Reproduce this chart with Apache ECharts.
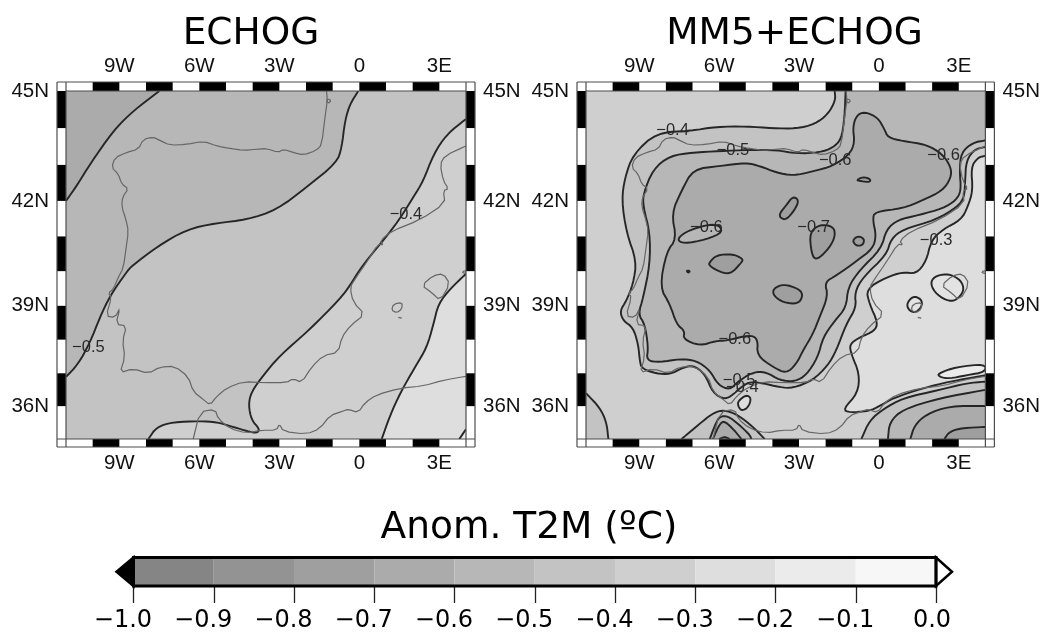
<!DOCTYPE html>
<html><head><meta charset="utf-8">
<style>html,body{margin:0;padding:0;background:#fff}#c{width:1043px;height:633px;filter:blur(0.45px)}</style>
<script src="https://cdn.jsdelivr.net/npm/echarts@6/dist/echarts.min.js"></script>
</head><body><div id="c"></div>
<script>
// ---- data: [lon, lat] in degrees ----
const coastIberia=[[-1.23,45],[-1.2,44.75],[-1.29,44.29],[-1.41,43.56],[-1.6,43.4],[-2.1,43.27],[-2.48,43.34],[-2.85,43.43],[-3.04,43.34],[-3.48,43.45],[-3.85,43.43],[-4.35,43.4],[-4.85,43.45],[-5.35,43.52],[-5.85,43.65],[-6.48,43.56],[-7.1,43.54],[-7.48,43.67],[-7.73,43.76],[-8.1,43.7],[-8.29,43.43],[-8.73,43.34],[-9.16,43.2],[-9.29,42.93],[-9.04,42.75],[-8.91,42.47],[-8.66,42.34],[-8.88,42.11],[-8.91,41.84],[-8.75,41.47],[-8.66,41.15],[-8.75,40.65],[-8.85,40.1],[-9.04,39.83],[-9.22,39.49],[-9.41,39.37],[-9.29,39.25],[-9.5,38.7],[-9.16,38.66],[-8.97,38.95],[-9.13,38.46],[-8.73,38.41],[-8.88,37.97],[-8.79,37.48],[-8.98,37.01],[-8.48,37.14],[-7.91,36.99],[-7.48,37.19],[-6.91,37.21],[-6.41,36.89],[-6.23,36.45],[-5.85,36.21],[-5.6,36.04],[-5.35,36.3],[-4.98,36.55],[-4.35,36.75],[-3.6,36.72],[-2.73,36.72],[-2.48,36.84],[-2.16,36.72],[-1.79,37.19],[-1.35,37.53],[-0.79,37.63],[-0.66,38.07],[-0.35,38.41],[0.21,38.75],[-0.23,39.1],[-0.35,39.54],[-0.16,39.78],[0.28,40.27],[0.71,40.79],[0.9,40.75],[0.78,40.88],[1.21,41.15],[2.28,41.47],[3.21,41.93],[3.15,42.29],[3.34,42.34],[3.15,42.56],[3.03,43.02],[3.21,43.25],[4,43.52]];
const coastAfrica=[[-6.23,35],[-5.98,35.83],[-5.41,35.91],[-5.29,35.62],[-4.85,35.32],[-4.23,35.18],[-3.66,35.27],[-3.1,35.27],[-3,35.47],[-2.85,35.23],[-1.98,35.15],[-1.48,35.32],[-1.1,35.72],[-0.6,35.86],[-0.41,35.91],[-0.04,35.81],[0.21,36.11],[0.65,36.35],[1.53,36.55],[2.4,36.62],[3.15,36.79],[4,36.91]];
const coastMallorca=[[2.34,39.59],[2.77,39.88],[3.15,39.93],[3.4,39.64],[3.03,39.15],[2.71,39.39],[2.34,39.59]];
const coastMenorca=[[3.84,39.98],[4,40.03],[4,39.93],[3.84,39.98]];
const coastIbiza=[[1.28,39.05],[1.61,39.1],[1.59,38.9],[1.4,38.8],[1.21,38.87],[1.28,39.05]];
const coastFormentera=[[1.46,38.66],[1.59,38.64]];
const coastOleron=[[-1.23,44.8],[-1.05,44.75],[-1.17,44.66],[-1.23,44.8]];

const echogA=[[-11,42],[-10.6,42.42],[-10.1,43.02],[-9.23,43.93],[-8.48,44.47],[-7.5,45]];
const echogB=[[-11,36.89],[-10.54,37.28],[-10.1,37.92],[-9.73,38.66],[-9.35,39.29],[-8.73,39.98],[-8.54,40.15],[-7.6,40.7],[-6.48,41.2],[-5.35,41.38],[-4.23,41.47],[-3.1,41.75],[-1.98,42.38],[-0.85,43.06],[-0.66,43.47],[-0.54,44.2],[-0.35,44.65],[-0.04,45]];
const echogC=[[4,44.25],[3.28,43.84],[2.78,43.29],[2.4,42.56],[2.03,42.11],[1.34,41.29],[0.09,40.15],[-0.35,39.59],[-0.73,39.2],[-1.85,38.31],[-2.98,37.53],[-3.6,36.94],[-4.04,36.45],[-4.16,36.06],[-4.04,35.57],[-3.73,35.3],[-3.85,35.18],[-4.16,35.23],[-4.73,35.37],[-5.35,35.52],[-5.98,35.55],[-6.98,35.52],[-7.6,35.37],[-7.91,35]];
const echogD=[[4,39.93],[3.4,39.49],[2.96,39.05],[2.78,38.46],[2.53,37.77],[2.09,37.19],[1.53,36.4],[1.15,35.72],[0.84,35]];
const echogE=[[3.75,35],[4,35.3]];

const mm5c04=[[-1.66,45],[-1.63,44.75],[-1.91,44.38],[-2.41,44.11],[-3.1,43.99],[-3.98,44],[-4.98,44.05],[-6.1,44.04],[-7.1,43.93],[-8.35,43.88],[-9.23,43.29],[-9.54,42.65],[-9.66,42.02],[-9.48,41.11],[-9.1,40.29],[-9.23,39.64],[-9.48,39.15],[-9.73,38.85],[-9.6,38.56],[-9.23,38.36],[-9.04,37.87],[-8.98,37.38],[-8.91,37.14],[-8.35,36.99],[-7.85,36.97],[-7.35,37.17],[-6.98,37.24],[-6.54,36.99],[-6.23,36.4],[-5.79,36.21],[-5.48,36.35],[-5.23,36.55],[-4.85,36.75],[-4.35,36.7],[-3.73,36.58],[-3.23,36.55],[-2.48,36.79],[-1.91,37.24],[-1.6,37.68],[-1.23,38.46],[-0.85,38.95],[-0.91,39.39],[-0.6,39.83],[0.28,40.47],[0.46,40.93],[0.9,41.2],[2.15,41.47],[2.96,41.84],[3.21,42.11],[3.24,42.56],[3.28,43.11],[3.59,43.43],[4,43.49]];
const mm5c05=[[-1.25,45],[-1.29,44.29],[-1.41,43.7],[-1.73,43.47],[-2.23,43.34],[-3.1,43.31],[-3.85,43.41],[-4.85,43.41],[-5.98,43.38],[-6.98,43.34],[-7.85,43.25],[-8.48,42.88],[-8.85,42.2],[-8.85,41.84],[-8.6,41.11],[-8.6,40.2],[-8.85,39.25],[-9.04,38.75],[-8.79,38.46],[-8.66,37.77],[-8.73,37.38],[-8.23,37.33],[-7.48,37.43],[-6.85,37.38],[-6.35,37.09],[-6.04,36.65],[-5.6,36.5],[-5.29,36.75],[-4.73,37.04],[-4.23,37.04],[-3.73,36.79],[-3.16,36.75],[-2.73,36.94],[-2.29,37.48],[-2.1,38.07],[-1.66,38.56],[-1.23,38.95],[-1.16,39.54],[-0.73,40.03],[0.09,40.65],[0.28,41.2],[0.71,41.47],[1.53,41.61],[2.4,41.79],[2.9,42.02],[3.09,42.29],[3.03,42.84],[3.09,43.34],[3.53,43.61],[4,43.67]];
const mm5c06=[[-5.98,42.97],[-4.98,43.06],[-4.48,42.97],[-3.85,42.79],[-3.23,42.7],[-2.48,42.82],[-1.73,42.97],[-1.1,43.29],[-0.91,43.61],[-0.98,44.02],[-0.85,44.34],[-0.54,44.45],[-0.04,44.29],[0.21,43.97],[0.34,43.75],[0.9,43.65],[1.78,43.56],[2.4,43.29],[2.71,42.93],[2.71,42.65],[2.4,42.29],[1.65,42.02],[0.9,41.79],[-0.16,41.7],[-0.23,41.47],[-0.1,41.02],[-0.23,40.65],[-0.85,40.29],[-1.6,39.88],[-2.04,39.69],[-1.91,39.29],[-2.23,38.66],[-2.48,38.17],[-2.85,37.68],[-3.1,37.28],[-3.48,36.99],[-3.98,37.19],[-4.58,37.53],[-4.54,38.02],[-4.85,38.15],[-5.73,37.97],[-6.1,37.97],[-6.73,37.82],[-7.35,38.02],[-7.29,38.26],[-7.6,38.46],[-7.85,39.05],[-8.23,39.54],[-7.98,40.56],[-7.6,40.93],[-7.79,41.65],[-7.41,42.29],[-6.98,42.88],[-5.98,42.97]];
const mm5c03=[[4,43.25],[3.71,43.2],[3.46,42.93],[3.53,42.29],[3.34,41.84],[3.09,41.47],[2.4,41.2],[1.96,40.88],[1.78,40.29],[1.4,39.93],[0.9,39.98],[0.28,39.83],[-0.48,39.49],[-0.35,39.05],[-0.04,38.51],[-0.16,38.26],[-0.73,38.07],[-1.1,37.87],[-1.04,37.58],[-0.73,36.99],[-0.79,36.4],[-1.35,35.91],[-1.1,35.81],[-0.35,35.86],[0.03,36.01],[0.53,36.25],[1.65,36.55],[2.65,36.75],[4,36.94]];
const mm5PatchWest=[[-7.6,40.93],[-7.1,41.2],[-6.1,41.38],[-5.83,41.13],[-6.48,40.91],[-7.35,40.79],[-7.6,40.93]];
const mm5Cold=[
 [[-3.73,41.65],[-3.48,41.88],[-3.23,42.13],[-3,42.02],[-3.16,41.75],[-3.48,41.47],[-3.7,41.52],[-3.73,41.65]],
 [[-0.85,42.58],[-0.6,42.67],[-0.31,42.61],[-0.35,42.52],[-0.66,42.55],[-0.85,42.58]],
 [[-2.6,41.11],[-2.23,41.34],[-1.73,41.29],[-1.63,41.06],[-1.79,40.75],[-2.16,40.43],[-2.41,40.34],[-2.54,40.56],[-2.6,41.11]],
 [[-1,40.88],[-0.79,41.02],[-0.54,40.93],[-0.6,40.75],[-0.85,40.73],[-1,40.88]],
 [[-6.35,40.27],[-6.1,40.47],[-5.48,40.5],[-5.1,40.36],[-5.16,40.25],[-5.6,39.9],[-6.1,40.03],[-6.39,40.18],[-6.35,40.27]],
 [[-7.23,40.03],[-7.09,40.01],[-7.16,39.95],[-7.23,40.03]],
 [[-3.98,39.49],[-3.6,39.64],[-2.98,39.49],[-2.85,39.29],[-3.04,39.05],[-3.6,39.1],[-3.95,39.29],[-3.98,39.49]]
];
const mm5PatchAlboran=[[2.21,36.99],[2.9,37.19],[4,37.28],[4,37.04],[3.28,36.94],[2.65,36.84],[2.28,36.89],[2.21,36.99]];
const mm5PatchMallorca=[[1.93,39.69],[2.15,39.88],[2.65,39.93],[3.09,39.74],[3.21,39.44],[2.9,39.15],[2.53,39.15],[2.09,39.39],[1.93,39.69]];
const mm5PatchIbiza=[[1.03,39.05],[1.28,39.29],[1.59,39.2],[1.63,39.0],[1.4,38.8],[1.15,38.85],[1.03,39.05]];
const mm5PatchCadiz=[[-5.29,36.16],[-4.98,36.35],[-4.79,36.25],[-4.91,35.96],[-5.16,35.86],[-5.29,36.01],[-5.29,36.16]];
const mm5SE04=[[4,36.75],[3.28,36.7],[2.28,36.5],[0.9,36.25],[0.15,35.91],[-0.35,35.57],[-0.66,35]];
const mm5SE05=[[4,36.5],[2.28,36.25],[0.9,35.91],[0.4,35.52],[0.34,35]];
const mm5SE06=[[4,36.01],[2.65,36.01],[1.78,35.76],[1.34,35.42],[1.18,35]];
const mm5SE07=[[4,35.37],[3.15,35.34],[2.65,35.23],[2.46,35]];
const mm5Mor04=[[-7.41,35],[-6.73,35.47],[-6.29,35.76],[-5.91,35.89],[-5.48,35.81],[-5.1,35.62],[-4.66,35.32],[-4.29,35]];
const mm5Mor05=[[-6.35,35],[-6.16,35.42],[-5.98,35.7],[-5.66,35.7],[-5.29,35.47],[-4.85,35.13],[-4.79,35]];
const mm5Mor06=[[-6.23,35],[-6.04,35.37],[-5.85,35.57],[-5.54,35.37],[-5.16,35]];
const mm5Mor07=[[-6,35],[-5.79,35.07],[-5.6,35]];
const mm5SW=[[-11,36.4],[-10.48,35.96],[-10.23,35.52],[-10.16,35]];

const labelsEchog=[[1.75,41.63,'−0.4'],[-10.16,37.78,'−0.5']];
const labelsMM5=[[-7.75,43.93,'−0.4'],[-5.48,43.41,'−0.5'],[-1.64,43.13,'−0.6'],[2.43,43.26,'−0.6'],[-6.48,41.25,'−0.6'],[-2.45,41.25,'−0.7'],[2.15,40.88,'−0.3'],[-5.41,38.0,'−0.6'],[-5.25,36.77,'−0.5'],[-5.13,36.58,'−0.4']];

const lonTicks=[-9,-6,-3,0,3];
const latTicks=[36,39,42,45];
const colorLevels=[-1,-0.9,-0.8,-0.7,-0.6,-0.5,-0.4,-0.3,-0.2,-0.1,0];
const colorSteps=['#858585','#939393','#9f9f9f','#ababab','#b7b7b7','#c3c3c3','#cfcfcf','#dedede','#ebebeb','#f7f7f7'];
const C={l9f:colorSteps[2],ab:colorSteps[3],b7:colorSteps[4],c3:colorSteps[5],cf:colorSteps[6],de:colorSteps[7],eb:colorSteps[8]};

const fillsEchog=[
 {p:echogB,c:C.b7,e:[[-11,45]]},{p:echogA,c:C.ab,e:[[-11,45]]},
 {p:echogC,c:C.cf,e:[[4,35]]},{p:echogD,c:C.de,e:[[4,35]]},{p:echogE,c:C.eb,e:[[4,35]]}];
const fillsMM5=[
 {p:mm5c04,c:C.c3,e:[[4,45]]},{p:mm5c05,c:C.b7,e:[[4,45]]},{p:mm5c06,c:C.ab,e:[]},
 {p:mm5PatchWest,c:C.b7,e:[]},
 ...mm5Cold.map(p=>({p,c:C.l9f,e:[]})),
 {p:mm5c03,c:C.de,e:[]},{p:mm5PatchAlboran,c:C.eb,e:[]},{p:mm5PatchMallorca,c:'#e3e3e3',e:[]},{p:mm5PatchIbiza,c:'#e3e3e3',e:[]},{p:mm5PatchCadiz,c:C.de,e:[]},
 {p:mm5SE04,c:C.c3,e:[[4,35]]},{p:mm5SE05,c:C.b7,e:[[4,35]]},{p:mm5SE06,c:C.ab,e:[[4,35]]},{p:mm5SE07,c:C.l9f,e:[[4,35]]},
 {p:mm5Mor04,c:C.c3,e:[]},{p:mm5Mor05,c:C.b7,e:[]},{p:mm5Mor06,c:C.ab,e:[]},{p:mm5Mor07,c:C.l9f,e:[]},
 {p:mm5SW,c:C.c3,e:[[-11,35]]}];
const coasts=[coastIberia,coastAfrica,coastMallorca,coastMenorca,coastIbiza,coastFormentera,coastOleron];

// ---- helpers ----
const rad=Math.PI/180;
const merc=lat=>Math.log(Math.tan(Math.PI/4+lat*rad/2));
const unmerc=v=>Math.round((2*Math.atan(Math.exp(v))-Math.PI/2)/rad);
const LON=[-11,4],LAT=[35,45];
const PX=(api,p)=>api.coord([p[0],merc(p[1])]);
function chaikin(pts,closed,n){
  for(let k=0;k<n;k++){const o=[];const m=pts.length;
    if(!closed)o.push(pts[0]);
    for(let i=0;i<m-1;i++){const a=pts[i],b=pts[i+1];
      o.push([a[0]*.75+b[0]*.25,a[1]*.75+b[1]*.25]);
      o.push([a[0]*.25+b[0]*.75,a[1]*.25+b[1]*.75]);}
    if(!closed)o.push(pts[m-1]); else o.push(o[0]);
    pts=o;}
  return pts;
}
const isClosed=p=>p[0][0]===p[p.length-1][0]&&p[0][1]===p[p.length-1][1];
function fillSeries(i,base,fills){
  return {type:'custom',xAxisIndex:i*2,yAxisIndex:i*2,clip:true,silent:true,z:2,
    data:[{value:[LON[0],merc(LAT[0]),-1]}].concat(fills.map((f,k)=>({value:[f.p[0][0],merc(f.p[0][1]),k]}))),
    renderItem(params,api){
      const k=api.value(2);
      if(k<0){const a=api.coord([LON[0],merc(LAT[1])]),b=api.coord([LON[1],merc(LAT[0])]);
        return {type:'rect',shape:{x:a[0],y:a[1],width:b[0]-a[0],height:b[1]-a[1]},style:{fill:base}};}
      const f=fills[k];const closed=isClosed(f.p);
      const line=chaikin(f.p.map(p=>PX(api,p)),closed,2);
      const ring=line.concat(f.e.map(p=>PX(api,p)));
      return {type:'group',children:[
        {type:'polygon',shape:{points:ring},style:{fill:f.c,stroke:null}},
        {type:'polyline',shape:{points:line},style:{fill:null,stroke:'#262626',lineWidth:1.9}}]};
    }};
}
function coastSeries(i){
  return {type:'custom',xAxisIndex:i*2,yAxisIndex:i*2,clip:true,silent:true,z:2,
    data:coasts.map((c,k)=>[c[0][0],merc(c[0][1]),k]),
    renderItem(params,api){
      const c=coasts[api.value(2)];
      return {type:'polyline',shape:{points:chaikin(c.map(p=>PX(api,p)),isClosed(c),1)},style:{fill:null,stroke:'#666',lineWidth:1.2}};
    }};
}
function labelSeries(i,labels){
  return {type:'custom',xAxisIndex:i*2,yAxisIndex:i*2,silent:true,z:3,
    data:labels.map((l,k)=>[l[0],merc(l[1]),k]),
    renderItem(params,api){
      const l=labels[api.value(2)],pt=api.coord([l[0],merc(l[1])]);
      return {type:'text',style:{x:pt[0],y:pt[1],text:l[2],fill:'#2a2a2a',font:'16.5px "Liberation Sans"',textAlign:'center',textVerticalAlign:'middle'}};
    }};
}
const frameCol='#4d4d4d';
function frameSeries(i){
  const lons=[];for(let v=LON[0];v<LON[1];v++)lons.push(v);
  const lats=[];for(let v=LAT[1];v>LAT[0];v--)lats.push(v);
  return {type:'custom',xAxisIndex:i*2,yAxisIndex:i*2,silent:true,z:5,
    data:[[LON[0],merc(LAT[0])]],
    renderItem(params,api){
      const tl=api.coord([LON[0],merc(LAT[1])]),br=api.coord([LON[1],merc(LAT[0])]);
      const side=9,topH=9,botH=8,ch=[];
      const rect=(x,y,w,h,f)=>ch.push({type:'rect',shape:{x,y,width:w,height:h},style:{fill:f}});
      const ln=(a,b,c,d)=>ch.push({type:'line',shape:{x1:a,y1:b,x2:c,y2:d},style:{stroke:frameCol,lineWidth:1.2}});
      rect(tl[0]-side,tl[1]-topH,br[0]-tl[0]+2*side,topH,'#fff');
      rect(tl[0]-side,br[1],br[0]-tl[0]+2*side,botH,'#fff');
      lons.forEach((v,n)=>{if(n%2===1){const a=api.coord([v,merc(LAT[0])])[0],b=api.coord([v+1,merc(LAT[0])])[0];
        rect(a,tl[1]-topH,b-a,topH,'#000');rect(a,br[1],b-a,botH,'#000');}});
      lats.forEach((v,n)=>{const a=api.coord([LON[0],merc(v)])[1],b=api.coord([LON[0],merc(v-1)])[1];
        const f=n%2===0?'#000':'#fff';
        rect(tl[0]-side,a,side,b-a,f);rect(br[0],a,side,b-a,f);});
      ln(tl[0]-side,tl[1]-topH,br[0]+side,tl[1]-topH);
      ln(tl[0]-side,br[1]+botH,br[0]+side,br[1]+botH);
      ln(tl[0]-side,tl[1]-topH,tl[0]-side,br[1]+botH);
      ln(br[0]+side,tl[1]-topH,br[0]+side,br[1]+botH);
      ln(tl[0],tl[1]-topH,tl[0],br[1]+botH);
      ln(br[0],tl[1]-topH,br[0],br[1]+botH);
      ln(tl[0]-side,br[1],br[0]+side,br[1]);
      ln(tl[0],tl[1],br[0],tl[1]);
      return {type:'group',children:ch};
    }};
}
const lonFmt=v=>v<0?(-v)+'W':v>0?v+'E':'0';
const latFmt=v=>unmerc(v)+'N';
const labelFont={fontFamily:'Liberation Sans',fontSize:20.5,color:'#111'};
function xAx(grid,pos){return {gridIndex:grid,type:'value',position:pos,min:LON[0],max:LON[1],
  axisLine:{show:false},axisTick:{show:false},splitLine:{show:false},
  axisLabel:{...labelFont,customValues:lonTicks,formatter:lonFmt,margin:pos==='top'?14:14}};}
function yAx(grid,pos){return {gridIndex:grid,type:'value',position:pos,min:merc(LAT[0]),max:merc(LAT[1]),scale:true,
  axisLine:{show:false},axisTick:{show:false},splitLine:{show:false},
  axisLabel:{...labelFont,customValues:latTicks.map(merc),formatter:latFmt,margin:17,padding:[3,0,0,0]}};}

const titleStyle=s=>({fontFamily:'DejaVu Sans',fontSize:s,fontWeight:'normal',color:'#000'});
const option={
  animation:false,backgroundColor:'#fff',
  title:[
    {text:'ECHOG',left:246,top:10,textAlign:'center',textStyle:titleStyle(37.5)},
    {text:'MM5+ECHOG',left:789.5,top:10,textAlign:'center',textStyle:titleStyle(37.5)},
    {text:'Anom. T2M (ºC)',left:524,top:504,textAlign:'center',textStyle:titleStyle(37.5)}
  ],
  grid:[
    {left:66,top:91,width:400,height:348},
    {left:586,top:91,width:400,height:348},
    {left:133.5,top:557.5,width:802.5,height:28.5}
  ],
  xAxis:[xAx(0,'top'),xAx(0,'bottom'),xAx(1,'top'),xAx(1,'bottom'),
    {gridIndex:2,type:'value',position:'bottom',min:-1,max:0,axisLine:{show:false},splitLine:{show:false},
     axisTick:{show:true,customValues:colorLevels,length:17,lineStyle:{color:'#222',width:1.3}},
     axisLabel:{customValues:colorLevels,fontFamily:'DejaVu Sans',fontSize:24,color:'#000',margin:23,
       rich:{n:{fontFamily:'DejaVu Sans',fontSize:24,color:'#000',padding:[0,21,0,0]},z:{fontFamily:'DejaVu Sans',fontSize:24,color:'#000',padding:[0,8,0,0]}},
       formatter:v=>v<0?'{n|−'+Math.abs(v).toFixed(1)+'}':'{z|0.0}'}}],
  yAxis:[yAx(0,'left'),yAx(0,'right'),yAx(1,'left'),yAx(1,'right'),
    {gridIndex:2,type:'value',min:0,max:1,show:false}],
  series:[
    fillSeries(0,C.c3,fillsEchog),coastSeries(0),labelSeries(0,labelsEchog),frameSeries(0),
    fillSeries(1,C.cf,fillsMM5),coastSeries(1),labelSeries(1,labelsMM5),frameSeries(1),
    {type:'custom',xAxisIndex:4,yAxisIndex:4,silent:true,z:2,
     data:colorSteps.map((c,k)=>[colorLevels[k],0,k]),
     renderItem(params,api){
       const k=api.value(2),a=api.coord([colorLevels[k],1]),b=api.coord([colorLevels[k+1],0]);
       return {type:'rect',shape:{x:a[0],y:a[1],width:b[0]-a[0],height:b[1]-a[1]},style:{fill:colorSteps[k]}};
     }},
    {type:'custom',xAxisIndex:4,yAxisIndex:4,silent:true,z:4,
     data:[[-1,0]],
     renderItem(params,api){
       const tl=api.coord([-1,1]),br=api.coord([0,0]),mid=(tl[1]+br[1])/2,tipL=17,tipR=16;
       return {type:'group',children:[
         {type:'polygon',shape:{points:[[tl[0],tl[1]],[tl[0]-tipL,mid],[tl[0],br[1]]]},style:{fill:'#000',stroke:'#000',lineWidth:2.5}},
         {type:'polygon',shape:{points:[[br[0],tl[1]],[br[0]+tipR,mid],[br[0],br[1]]]},style:{fill:'#fff',stroke:'#000',lineWidth:2.5}},
         {type:'rect',shape:{x:tl[0],y:tl[1],width:br[0]-tl[0],height:br[1]-tl[1]},style:{fill:null,stroke:'#000',lineWidth:3}}]};
     }}
  ]
};
const chart=echarts.init(document.getElementById('c'),null,{renderer:'canvas',width:1043,height:633});
chart.setOption(option);
</script></body></html>
